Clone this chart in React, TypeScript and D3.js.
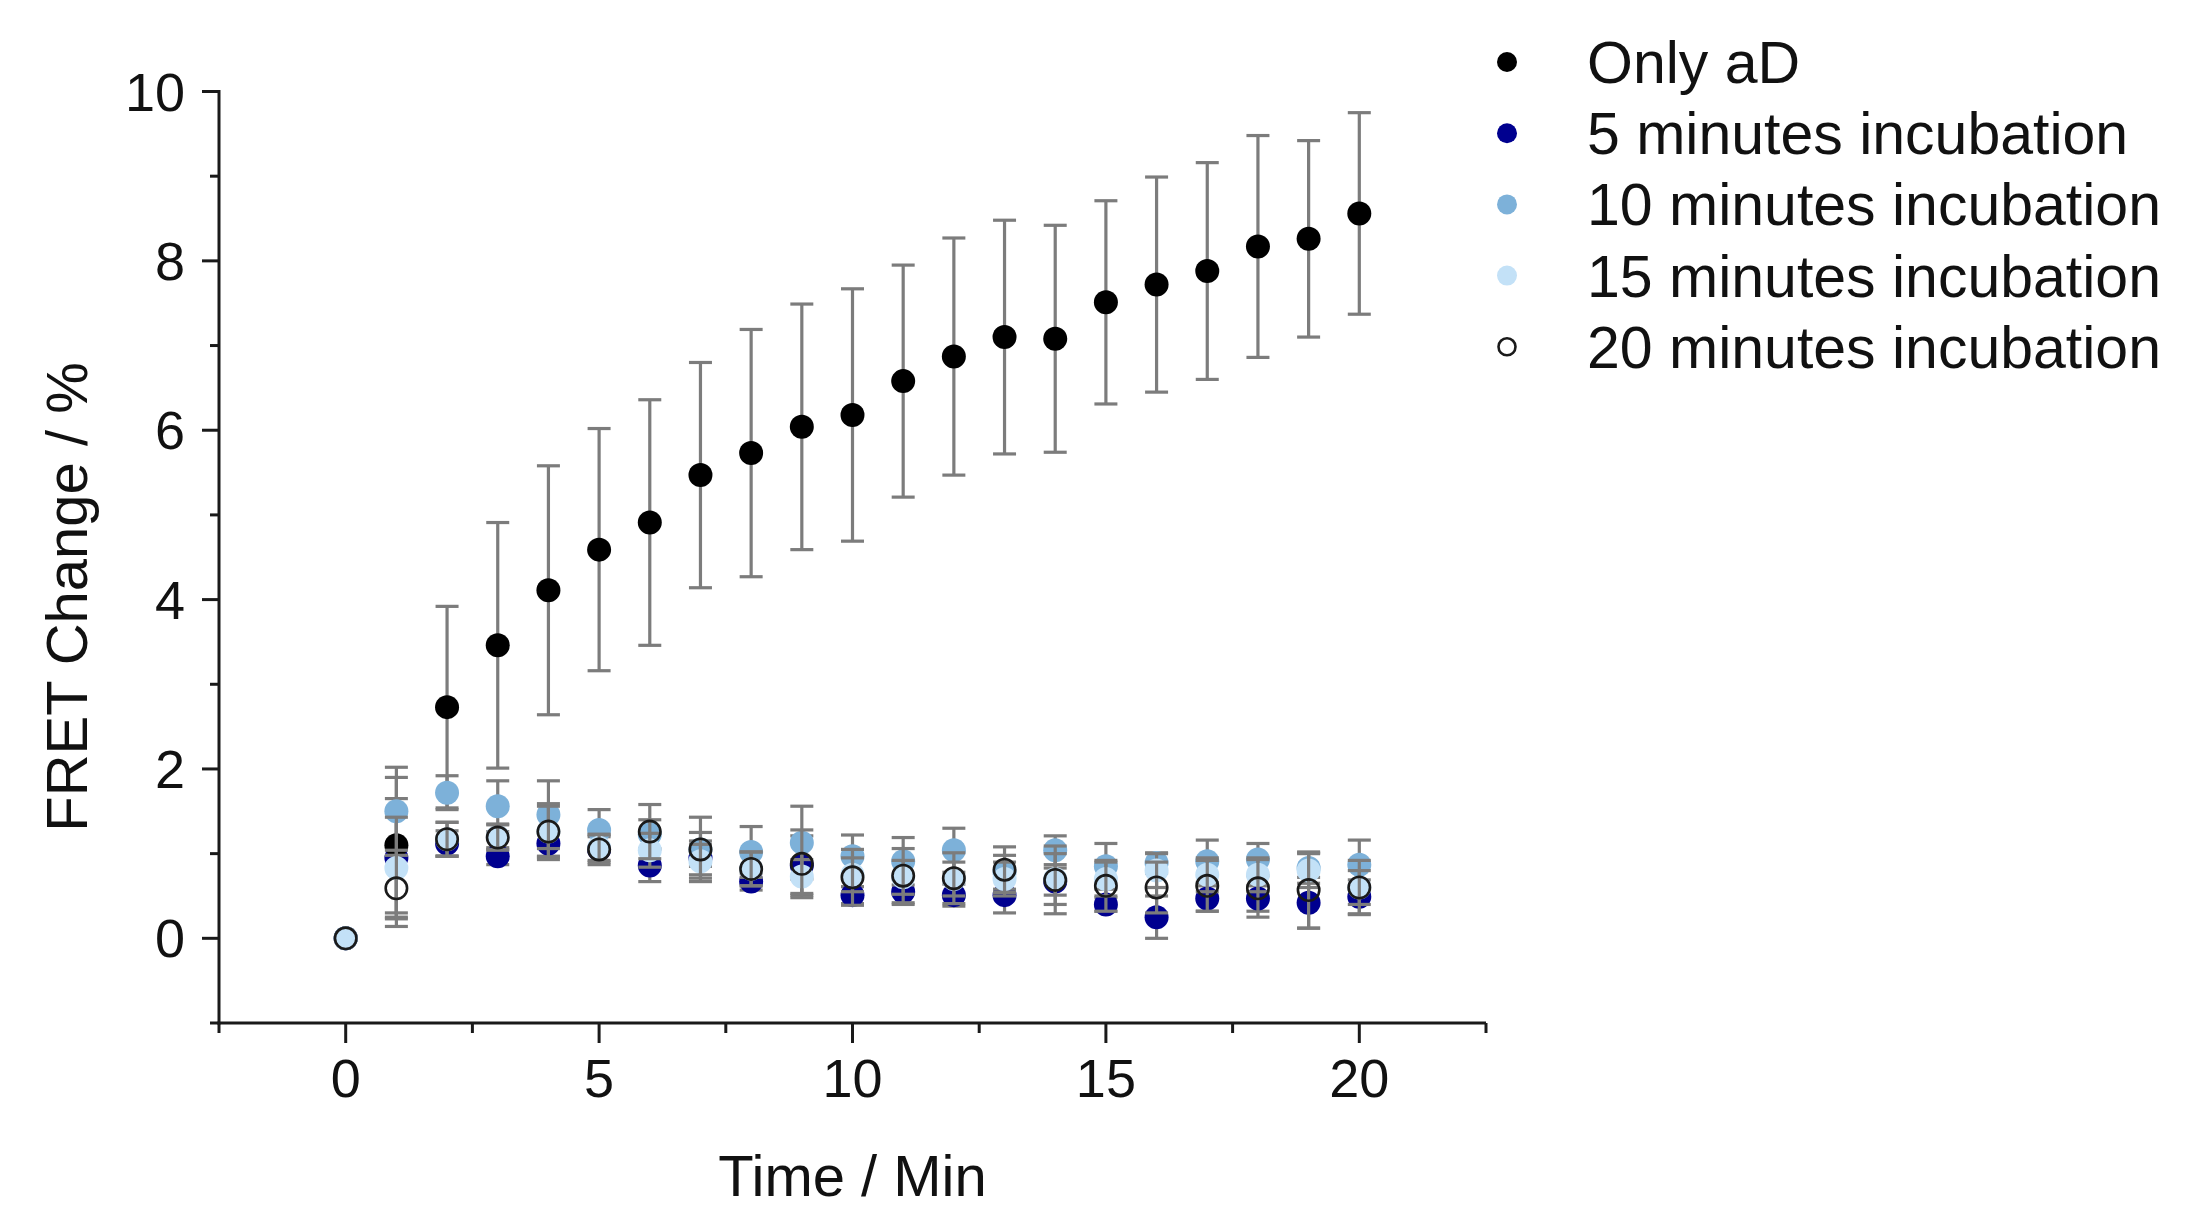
import React from "react";
import * as d3 from "d3";

const times = [0, 1, 2, 3, 4, 5, 6, 7, 8, 9, 10, 11, 12, 13, 14, 15, 16, 17, 18, 19, 20];

const onlyAD = [0, 1.10, 2.73, 3.46, 4.11, 4.59, 4.91, 5.47, 5.73, 6.04, 6.18, 6.58, 6.87, 7.10, 7.08, 7.51, 7.72, 7.88, 8.17, 8.26, 8.56];
const onlyADErr = [0, 0.80, 1.19, 1.45, 1.47, 1.43, 1.45, 1.33, 1.46, 1.45, 1.49, 1.37, 1.40, 1.38, 1.34, 1.20, 1.27, 1.28, 1.31, 1.16, 1.19];

const min5 = [0, 0.95, 1.12, 0.97, 1.12, 1.05, 0.86, 0.95, 0.67, 0.86, 0.51, 0.55, 0.51, 0.51, 0.67, 0.40, 0.25, 0.47, 0.47, 0.42, 0.49];
const min5Err = [0, 0.70, 0.15, 0.10, 0.15, 0.15, 0.19, 0.20, 0.10, 0.35, 0.10, 0.15, 0.13, 0.21, 0.16, 0.08, 0.25, 0.15, 0.15, 0.30, 0.20];

const min10 = [0, 1.50, 1.72, 1.56, 1.46, 1.28, 1.23, 1.05, 1.02, 1.13, 0.97, 0.91, 1.04, 0.78, 1.04, 0.85, 0.89, 0.91, 0.93, 0.83, 0.87];
const min10Err = [0, 0.52, 0.20, 0.30, 0.40, 0.24, 0.17, 0.20, 0.30, 0.43, 0.25, 0.28, 0.26, 0.20, 0.17, 0.27, 0.12, 0.25, 0.19, 0.18, 0.29];

const min15 = [0, 0.83, 1.17, 1.20, 1.26, 1.07, 1.04, 0.91, 0.82, 0.73, 0.75, 0.72, 0.70, 0.70, 0.70, 0.70, 0.80, 0.75, 0.75, 0.80, 0.60];
const min15Err = [0, 0.60, 0.20, 0.15, 0.30, 0.15, 0.20, 0.20, 0.20, 0.20, 0.20, 0.20, 0.20, 0.20, 0.30, 0.20, 0.20, 0.20, 0.20, 0.20, 0.20];

const min20 = [0, 0.59, 1.17, 1.19, 1.26, 1.05, 1.26, 1.05, 0.82, 0.88, 0.72, 0.74, 0.71, 0.81, 0.69, 0.62, 0.60, 0.62, 0.59, 0.57, 0.60];
const min20Err = [0, 0.45, 0.20, 0.15, 0.33, 0.18, 0.32, 0.38, 0.20, 0.40, 0.33, 0.32, 0.30, 0.27, 0.40, 0.30, 0.30, 0.30, 0.34, 0.45, 0.32];

const seriesNames = ["Only aD", "5 minutes incubation", "10 minutes incubation", "15 minutes incubation", "20 minutes incubation"];
const xMajorTicks = [0, 5, 10, 15, 20];
const xMinorTicks = [-2.5, 2.5, 7.5, 12.5, 17.5, 22.5];
const yMajorTicks = [0, 2, 4, 6, 8, 10];
const yMinorTicks = [-1, 1, 3, 5, 7, 9];

const FONT = "'Liberation Sans', Arial, Helvetica, sans-serif";

type Series = {
  name: string;
  values: number[];
  errs: number[];
  fill: string;
  stroke: string;
  strokeWidth: number;
};

const seriesList: Series[] = [
  { name: seriesNames[0], values: onlyAD, errs: onlyADErr, fill: "#000000", stroke: "none", strokeWidth: 0 },
  { name: seriesNames[1], values: min5, errs: min5Err, fill: "#00008f", stroke: "none", strokeWidth: 0 },
  { name: seriesNames[2], values: min10, errs: min10Err, fill: "#7db1d9", stroke: "none", strokeWidth: 0 },
  { name: seriesNames[3], values: min15, errs: min15Err, fill: "#c3e1f7", stroke: "none", strokeWidth: 0 },
  { name: seriesNames[4], values: min20, errs: min20Err, fill: "none", stroke: "#1a1a1a", strokeWidth: 2.6 },
];

// drawing order (5 min underneath the black series)
const drawOrder = [1, 0, 2, 3, 4];

export default function App() {
  const W = 2190;
  const H = 1230;
  const left = 219;
  const right = 1486;
  const top = 91.5;
  const bottom = 1023;

  const x = d3.scaleLinear().domain([-2.5, 22.5]).range([left, right]);
  const y = d3.scaleLinear().domain([-1, 10]).range([bottom, top]);

  const r = 12;
  const capHalf = 11.5;
  const barColor = "#7c7c7c";

  const legendX = 1507;
  const legendTextX = 1587;
  const legendY0 = 62;
  const legendStep = 71.2;

  return (
    <svg
      width={W}
      height={H}
      viewBox={`0 0 ${W} ${H}`}
      style={{ position: "absolute", left: 0, top: 0, background: "#fff" }}
      fontFamily={FONT}
    >
      <rect x={0} y={0} width={W} height={H} fill="#fff" />

      {/* data */}
      {drawOrder.map((si) => {
        const s = seriesList[si];
        return (
          <g key={s.name}>
            {times.map((t, i) => {
              const e = s.errs[i];
              if (!e) return null;
              const cx = x(t);
              const y1 = y(s.values[i] + e);
              const y2 = y(s.values[i] - e);
              return (
                <g key={i} stroke={barColor} strokeWidth={3.2}>
                  <line x1={cx} x2={cx} y1={y1} y2={y2} />
                  <line x1={cx - capHalf} x2={cx + capHalf} y1={y1} y2={y1} />
                  <line x1={cx - capHalf} x2={cx + capHalf} y1={y2} y2={y2} />
                </g>
              );
            })}
            {times.map((t, i) => (
              <circle
                key={`p${i}`}
                cx={x(t)}
                cy={y(s.values[i])}
                r={s.stroke !== "none" ? r - 1.3 : r}
                fill={s.fill}
                stroke={s.stroke}
                strokeWidth={s.strokeWidth}
              />
            ))}
          </g>
        );
      })}

      {/* axes */}
      <g stroke="#1a1a1a" strokeWidth={3} fill="none">
        <line x1={left} x2={left} y1={top - 1.5} y2={bottom + 1.5} />
        <line x1={left - 1.5} x2={right} y1={bottom} y2={bottom} />
        {yMajorTicks.map((v) => (
          <line key={`ym${v}`} x1={left - 17} x2={left} y1={y(v)} y2={y(v)} />
        ))}
        {yMinorTicks.map((v) => (
          <line key={`yn${v}`} x1={left - 9} x2={left} y1={y(v)} y2={y(v)} />
        ))}
        {xMajorTicks.map((v) => (
          <line key={`xm${v}`} x1={x(v)} x2={x(v)} y1={bottom} y2={bottom + 20} />
        ))}
        {xMinorTicks.map((v) => (
          <line key={`xn${v}`} x1={x(v)} x2={x(v)} y1={bottom} y2={bottom + 10} />
        ))}
      </g>

      {/* tick labels */}
      <g fontSize={54} fill="#111">
        {yMajorTicks.map((v) => (
          <text key={`yl${v}`} x={left - 34} y={y(v) + 19} textAnchor="end">
            {v}
          </text>
        ))}
        {xMajorTicks.map((v) => (
          <text key={`xl${v}`} x={x(v)} y={1097} textAnchor="middle">
            {v}
          </text>
        ))}
      </g>

      {/* axis titles */}
      <text x={(left + right) / 2} y={1196} textAnchor="middle" fontSize={58} fill="#111">
        Time / Min
      </text>
      <text
        transform={`translate(87, 597) rotate(-90)`}
        textAnchor="middle"
        fontSize={58}
        fill="#111"
      >
        FRET Change / %
      </text>

      {/* legend */}
      {seriesList.map((s, i) => {
        const ly = legendY0 + i * legendStep;
        return (
          <g key={`lg${i}`}>
            <circle
              cx={legendX}
              cy={ly}
              r={s.stroke !== "none" ? 8.5 : 10}
              fill={s.stroke !== "none" ? "#fff" : s.fill}
              stroke={s.stroke}
              strokeWidth={s.strokeWidth}
            />
            <text x={legendTextX} y={ly + 21} fontSize={59} fill="#111">
              {s.name}
            </text>
          </g>
        );
      })}
    </svg>
  );
}
